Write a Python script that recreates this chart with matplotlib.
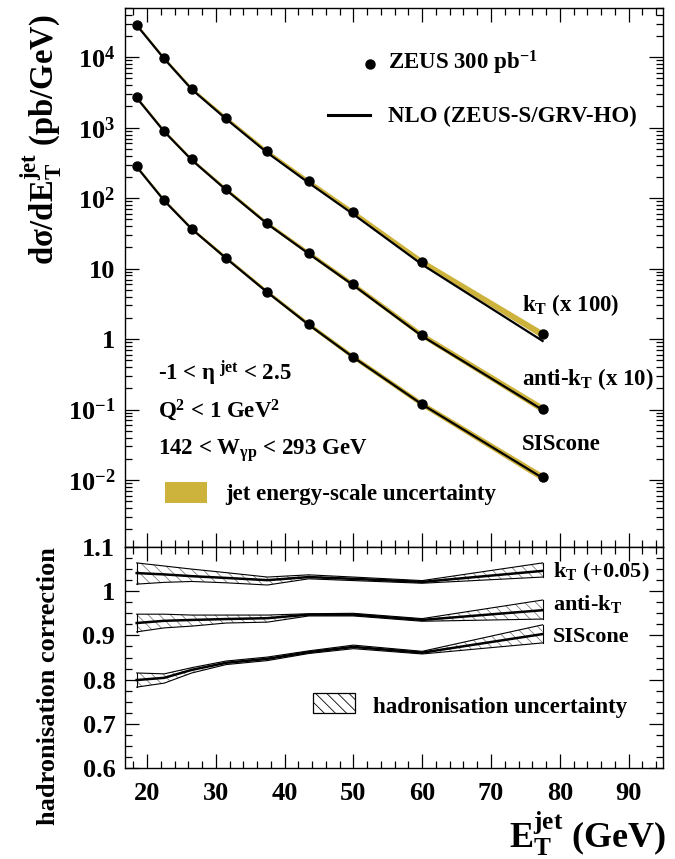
import numpy as np
import matplotlib
matplotlib.use("Agg")
import matplotlib.pyplot as plt
from matplotlib.ticker import FixedLocator, FixedFormatter, MultipleLocator, LogLocator, NullFormatter
from matplotlib.patches import Rectangle

plt.rcParams["font.family"] = ["Liberation Serif", "DejaVu Serif"]
plt.rcParams["font.weight"] = "bold"
plt.rcParams["mathtext.fontset"] = "custom"
plt.rcParams["mathtext.rm"] = "Liberation Serif:bold"
plt.rcParams["mathtext.it"] = "Liberation Serif:bold"
plt.rcParams["mathtext.bf"] = "Liberation Serif:bold"
plt.rcParams["mathtext.default"] = "rm"
plt.rcParams["hatch.linewidth"] = 0.6

# E_T^jet bin centres (GeV)
et = [18.5, 22.5, 26.5, 31.5, 37.5, 43.5, 50.0, 60.0, 77.5]

# d sigma / dE_T (pb/GeV), already scaled (kT x100, anti-kT x10)
kt_data = [2.9e4, 9.7e3, 3.6e3, 1.38e3, 460, 174, 63, 12.6, 1.17]
akt_data = [2.7e3, 900, 355, 134, 44, 16.8, 5.96, 1.14, 0.103]
sis_data = [282, 94, 37, 14.3, 4.7, 1.63, 0.56, 0.12, 0.011]

kt_nlo = [2.85e4, 9.5e3, 3.5e3, 1.33e3, 440, 165, 59, 11.4, 0.94]
akt_nlo = [2.65e3, 880, 348, 131, 43, 16.3, 5.8, 1.1, 0.099]
sis_nlo = [278, 92, 36.5, 14.0, 4.6, 1.6, 0.55, 0.118, 0.0107]

# relative jet energy-scale uncertainty per bin
jes_unc = [0.05, 0.05, 0.05, 0.06, 0.06, 0.07, 0.08, 0.09, 0.12]

# hadronisation corrections (centre, low, high)
had_kt = [1.041, 1.038, 1.034, 1.030, 1.025, 1.032, 1.028, 1.021, 1.046]
had_kt_lo = [1.016, 1.020, 1.022, 1.019, 1.014, 1.028, 1.024, 1.018, 1.032]
had_kt_hi = [1.064, 1.057, 1.050, 1.042, 1.032, 1.037, 1.032, 1.024, 1.064]

had_akt = [0.928, 0.933, 0.935, 0.937, 0.939, 0.947, 0.947, 0.935, 0.957]
had_akt_lo = [0.908, 0.917, 0.921, 0.928, 0.930, 0.944, 0.944, 0.932, 0.937]
had_akt_hi = [0.948, 0.948, 0.946, 0.946, 0.946, 0.949, 0.950, 0.938, 0.980]

had_sis = [0.799, 0.804, 0.822, 0.838, 0.847, 0.862, 0.874, 0.861, 0.903]
had_sis_lo = [0.783, 0.792, 0.815, 0.834, 0.843, 0.859, 0.870, 0.858, 0.883]
had_sis_hi = [0.815, 0.813, 0.827, 0.842, 0.851, 0.865, 0.878, 0.864, 0.924]

YELLOW = "#CDB23C"

fig = plt.figure(figsize=(6.75, 8.59), dpi=100)
W, H = 675, 859
L, R = 125, 663
ax = fig.add_axes([L / W, 1 - 547 / H, (R - L) / W, (547 - 8) / H])
axb = fig.add_axes([L / W, 1 - 768 / H, (R - L) / W, (768 - 547) / H])

x = np.array(et)
u = np.array(jes_unc)
for data, nlo in [(kt_data, kt_nlo), (akt_data, akt_nlo), (sis_data, sis_nlo)]:
    d = np.array(data)
    ax.fill_between(x, d * (1 - u), d * (1 + u), color=YELLOW, lw=0, zorder=2)
    ax.plot(x, nlo, color="black", lw=1.6, zorder=3)
    ax.plot(x, d, "o", color="black", ms=6.5, zorder=4)

ax.set_yscale("log")
ax.set_xlim(16.8, 95)
ax.set_ylim(1.12e-3, 5e4)
ax.yaxis.set_major_locator(FixedLocator([1e-2, 1e-1, 1, 10, 1e2, 1e3, 1e4]))
ax.yaxis.set_major_formatter(FixedFormatter(
    ["$10^{-2}$", "$10^{-1}$", "1", "10", "$10^{2}$", "$10^{3}$", "$10^{4}$"]))
ax.yaxis.set_minor_locator(LogLocator(base=10, subs=np.arange(2, 10)))
ax.yaxis.set_minor_formatter(NullFormatter())
ax.xaxis.set_major_locator(MultipleLocator(10))
ax.xaxis.set_minor_locator(MultipleLocator(2))
ax.tick_params(axis="x", labelbottom=False)

for a in (ax, axb):
    a.tick_params(which="both", direction="in", top=True, right=True, width=0.9, labelsize=19, pad=7)
    a.tick_params(which="major", length=10)
    a.tick_params(which="minor", length=5)
    for sp in a.spines.values():
        sp.set_linewidth(1.0)

# legend / annotations in top panel
T = ax.transAxes
ax.plot([0.455], [0.897], "o", color="black", ms=6.5, transform=T)
ax.text(0.489, 0.885, "ZEUS 300 pb$^{-1}$", transform=T, fontsize=16.5, va="baseline")
ax.plot([0.377, 0.455], [0.801, 0.801], color="black", lw=2.2, transform=T)
ax.text(0.489, 0.788, "NLO (ZEUS-S/GRV-HO)", transform=T, fontsize=16.5, va="baseline")

ax.text(0.0613, 0.310, "-1 < η$^{\\ jet}$ < 2.5", transform=T, fontsize=16.5, va="baseline")
ax.text(0.0613, 0.241, "Q$^2$ < 1 GeV$^2$", transform=T, fontsize=16.5, va="baseline")
ax.text(0.0613, 0.171, "142 < W$_{\\gamma p}$ < 293 GeV", transform=T, fontsize=16.5, va="baseline")
ax.add_patch(Rectangle((0.0743, 0.0816), 0.0777, 0.039, transform=T, facecolor=YELLOW, lw=0))
ax.text(0.186, 0.0872, "jet energy-scale uncertainty", transform=T, fontsize=16.5, va="baseline")

ax.text(0.738, 0.438, "k$_T$ (x 100)", transform=T, fontsize=16.5, va="baseline")
ax.text(0.738, 0.3006, "anti-k$_T$ (x 10)", transform=T, fontsize=16.5, va="baseline")
ax.text(0.738, 0.180, "SIScone", transform=T, fontsize=16.5, va="baseline")

# bottom panel: hadronisation corrections
for c, lo, hi in [(had_kt, had_kt_lo, had_kt_hi), (had_akt, had_akt_lo, had_akt_hi),
                  (had_sis, had_sis_lo, had_sis_hi)]:
    axb.fill_between(x, lo, hi, facecolor="none", edgecolor="0.5", hatch="\\\\\\", lw=0, zorder=2)
    axb.plot(x, lo, color="black", lw=0.8, zorder=3)
    axb.plot(x, hi, color="black", lw=0.8, zorder=3)
    axb.plot([x[0], x[0]], [lo[0], hi[0]], color="black", lw=0.8, zorder=3)
    axb.plot([x[-1], x[-1]], [lo[-1], hi[-1]], color="black", lw=0.8, zorder=3)
    axb.plot(x, c, color="black", lw=1.8, zorder=4)

axb.set_xlim(16.8, 95)
axb.set_ylim(0.6, 1.1)
axb.xaxis.set_major_locator(MultipleLocator(10))
axb.xaxis.set_minor_locator(MultipleLocator(2))
axb.yaxis.set_major_locator(FixedLocator([0.6, 0.7, 0.8, 0.9, 1.0, 1.1]))
axb.yaxis.set_major_formatter(FixedFormatter(["0.6", "0.7", "0.8", "0.9", "1", "1.1"]))
axb.yaxis.set_minor_locator(MultipleLocator(0.025))
axb.tick_params(axis="x", pad=10)

B = axb.transAxes
axb.text(0.7955, 0.864, "k$_T$ (+0.05)", transform=B, fontsize=16, va="baseline")
axb.text(0.7955, 0.715, "anti-k$_T$", transform=B, fontsize=16, va="baseline")
axb.text(0.7955, 0.570, "SIScone", transform=B, fontsize=16, va="baseline")
axb.add_patch(Rectangle((0.349, 0.249), 0.078, 0.09, transform=B, facecolor="none",
                        edgecolor="black", hatch="\\\\\\", lw=0.9))
axb.text(0.461, 0.249, "hadronisation uncertainty", transform=B, fontsize=16.5, va="baseline")

# axis titles
fig.text(41 / W, 1 - 140 / H, "dσ/dE$_T^{jet}$ (pb/GeV)", rotation=90, ha="center", va="center",
         fontsize=23.5)
fig.text(49 / W, 1 - 686 / H, "hadronisation correction", rotation=90, ha="center", va="center",
         fontsize=19)
fig.text(666 / W, 1 - 848 / H, "E$_T^{jet}$ (GeV)", ha="right", va="baseline", fontsize=26)

fig.savefig("out.png", dpi=100, facecolor="white")
